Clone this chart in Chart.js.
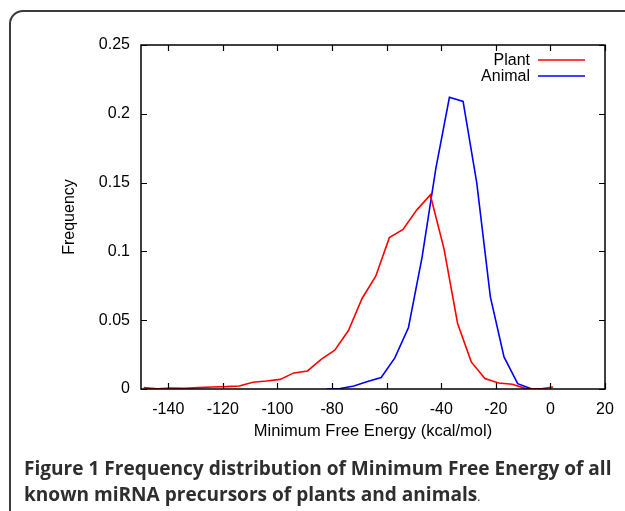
<!DOCTYPE html>
<html>
<head>
<meta charset="utf-8">
<script src="https://cdn.jsdelivr.net/npm/chart.js@4"></script>
<style>
  html, body { margin: 0; padding: 0; background: #fff; }
  body { width: 625px; height: 511px; position: relative; overflow: hidden; }
  #frame { position: absolute; left: 9px; top: 10px; width: 700px; height: 600px;
           border: 2px solid #3c3c3c; border-radius: 14px; box-sizing: border-box; }
  #c { position: absolute; left: 0; top: 0; }
  .cap { position: absolute; left: 24px; white-space: nowrap; color: #2e2e2e;
         font-family: "Open Sans", "Noto Sans", sans-serif; font-weight: 700; font-size: 17px; }
  #cap1 { top: 455px; }
  #cap2 { top: 481px; }
  .cap .dot { font-weight: 400; font-size: 12px; }
</style>
</head>
<body>
<div id="frame"></div>
<canvas id="c" width="625" height="511"></canvas>
<div class="cap" id="cap1">Figure 1 Frequency distribution of Minimum Free Energy of all</div>
<div class="cap" id="cap2">known miRNA precursors of plants and animals<span class="dot">.</span></div>
<script>
// ---- data ----
const plantEnergy = [-149,-144,-139,-134,-129,-124,-119,-114,-109,-104,-99,-94,-89,-84,-79,-74,-69,-64,-59,-54,-49,-44,-39,-34,-29,-24,-19,-14,-9,-4,1];
const plantFreq   = [0.001,0.0002,0.0007,0.0005,0.001,0.0015,0.0017,0.0022,0.0049,0.0058,0.007,0.0117,0.0131,0.0215,0.0282,0.0425,0.0658,0.082,0.110,0.116,0.130,0.141,0.102,0.0476,0.0197,0.0076,0.0044,0.0034,0.0003,0.0,0.0015];
const animalEnergy = [-82,-77,-72,-67,-62,-57,-52,-47,-42,-37,-32,-27,-22,-17,-12,-7,-2];
const animalFreq   = [0,0.0003,0.0022,0.0054,0.0083,0.0226,0.0447,0.096,0.160,0.212,0.209,0.150,0.067,0.0233,0.0039,0.0001,0.0001];
const xTicks = [-140,-120,-100,-80,-60,-40,-20,0,20];
const yTicks = [0,0.05,0.1,0.15,0.2,0.25];
const seriesNames = ['Plant','Animal'];
const xTitle = 'Minimum Free Energy (kcal/mol)';
const yTitle = 'Frequency';

const FONT = '"Liberation Sans", Arial, Helvetica, sans-serif';

const framePlugin = {
  id: 'gnuplotFrame',
  afterDraw(chart) {
    const {ctx, chartArea: a, scales: {x, y}} = chart;
    ctx.save();
    ctx.strokeStyle = '#000';
    ctx.lineWidth = 1.5;
    ctx.strokeRect(a.left, a.top, a.right - a.left, a.bottom - a.top);
    const tl = 6;
    ctx.lineWidth = 1.2;
    ctx.beginPath();
    xTicks.forEach(v => {
      const px = Math.round(x.getPixelForValue(v)) + 0.5;
      ctx.moveTo(px, a.bottom); ctx.lineTo(px, a.bottom - tl);
      ctx.moveTo(px, a.top); ctx.lineTo(px, a.top + tl);
    });
    yTicks.forEach(v => {
      const py = Math.round(y.getPixelForValue(v)) + 0.5;
      ctx.moveTo(a.left, py); ctx.lineTo(a.left + tl, py);
      ctx.moveTo(a.right, py); ctx.lineTo(a.right - tl, py);
    });
    ctx.stroke();
    // legend (gnuplot style: text then sample line)
    ctx.font = '16px ' + FONT;
    ctx.textAlign = 'right';
    ctx.textBaseline = 'middle';
    chart.data.datasets.forEach((ds, i) => {
      const ly = a.top + 15 + i * 16;
      ctx.fillStyle = '#000';
      ctx.fillText(ds.label, a.right - 75, ly + 1);
      ctx.strokeStyle = ds.borderColor;
      ctx.lineWidth = 1.5;
      ctx.beginPath();
      ctx.moveTo(a.right - 67, ly); ctx.lineTo(a.right - 20, ly);
      ctx.stroke();
    });
    ctx.restore();
  }
};

new Chart(document.getElementById('c'), {
  type: 'line',
  data: {
    datasets: [
      { label: seriesNames[0], data: plantEnergy.map((e, i) => ({x: e, y: plantFreq[i]})),
        borderColor: '#ff0000', borderWidth: 1.6, pointRadius: 0, tension: 0, fill: false },
      { label: seriesNames[1], data: animalEnergy.map((e, i) => ({x: e, y: animalFreq[i]})),
        borderColor: '#0000ff', borderWidth: 1.6, pointRadius: 0, tension: 0, fill: false }
    ]
  },
  options: {
    responsive: false,
    devicePixelRatio: 1,
    animation: false,
    layout: { padding: { left: 0, right: 20, top: 45, bottom: 0 } },
    plugins: { legend: { display: false }, tooltip: { enabled: false } },
    scales: {
      x: {
        type: 'linear', min: -150, max: 20,
        afterBuildTicks: s => { s.ticks = xTicks.map(v => ({value: v})); },
        afterFit: s => { s.height = 122; },
        grid: { display: false },
        border: { display: false },
        ticks: { color: '#000', font: { family: FONT, size: 16 }, padding: 3,
                 maxRotation: 0, autoSkip: false, callback: v => String(v) },
        title: { display: true, text: xTitle, color: '#000', font: { family: FONT, size: 16.5 },
                 padding: { top: 0, bottom: 70 } }
      },
      y: {
        type: 'linear', min: 0, max: 0.25,
        afterBuildTicks: s => { s.ticks = yTicks.map(v => ({value: v})); },
        afterFit: s => { s.width = 141; },
        grid: { display: false },
        border: { display: false },
        ticks: { color: '#000', font: { family: FONT, size: 16 }, padding: 3,
                 callback: v => String(v) },
        title: { display: true, text: yTitle, color: '#000', font: { family: FONT, size: 16 },
                 padding: { top: 60, bottom: 0 } }
      }
    }
  },
  plugins: [framePlugin]
});

// fit caption first line to reference width
(function fitCaption() {
  const c1 = document.getElementById('cap1');
  const c2 = document.getElementById('cap2');
  const target = 588;
  const w = c1.getBoundingClientRect().width;
  if (w > 0) {
    const fs = 17 * target / w;
    c1.style.fontSize = fs + 'px';
    c2.style.fontSize = fs + 'px';
  }
})();
</script>
</body>
</html>
